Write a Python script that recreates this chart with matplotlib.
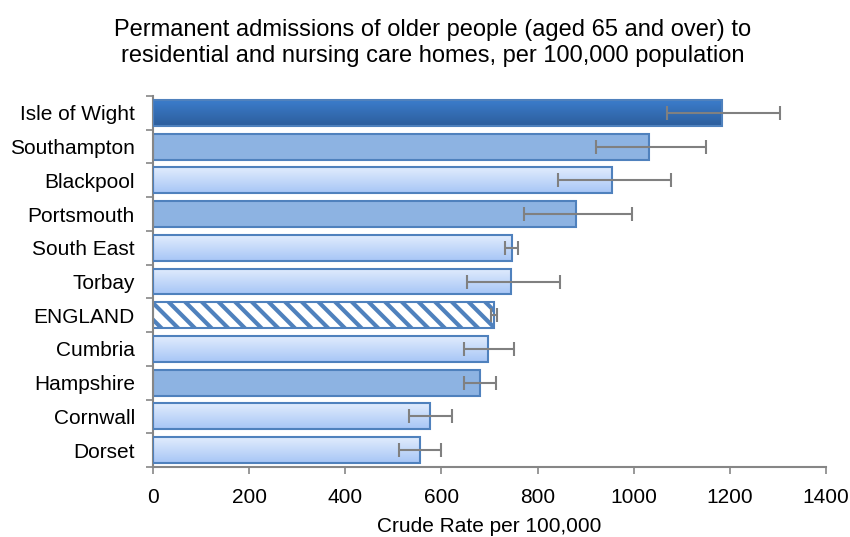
import numpy as np
import matplotlib
matplotlib.use("Agg")
from matplotlib import pyplot as plt
from matplotlib.colors import LinearSegmentedColormap

plt.rcParams['font.family'] = ['Liberation Sans', 'DejaVu Sans']
plt.rcParams['hatch.linewidth'] = 3.0

# data
areas = ['Isle of Wight', 'Southampton', 'Blackpool', 'Portsmouth', 'South East',
         'Torbay', 'ENGLAND', 'Cumbria', 'Hampshire', 'Cornwall', 'Dorset']
rates = [1183, 1032, 955, 880, 747, 745, 710, 697, 681, 576, 555]
ci_low = [1069, 922, 843, 772, 732, 653, 703, 647, 647, 533, 511]
ci_high = [1304, 1150, 1077, 996, 760, 847, 715, 750, 713, 621, 600]
# style of each bar: 'dark', 'mid', 'light', 'hatch'
styles = ['dark', 'mid', 'light', 'mid', 'light', 'light', 'hatch',
          'light', 'mid', 'light', 'light']

edge = '#4f81bd'
dark_cmap = LinearSegmentedColormap.from_list('dk', ['#3b7ccb', '#2d5e9c'])
light_cmap = LinearSegmentedColormap.from_list('lt', ['#e1ecfd', '#a7c6f6'])

fig = plt.figure(figsize=(8.5, 5.37), dpi=100)
ax = fig.add_axes([153 / 850, 1 - 467 / 537, 673 / 850, 371 / 537])

y = np.arange(len(areas))
h = 0.77
grad = np.linspace(0, 1, 64).reshape(-1, 1)

for i, (v, s) in enumerate(zip(rates, styles)):
    if s == 'mid':
        ax.barh(i, v, height=h, color='#8db3e2', edgecolor=edge, linewidth=1.5, zorder=2)
    elif s == 'hatch':
        ax.barh(i, v, height=h, color='white', edgecolor=edge, hatch='\\\\',
                linewidth=1.5, zorder=2)
    else:
        cm = dark_cmap if s == 'dark' else light_cmap
        b = ax.barh(i, v, height=h, color='none', edgecolor=edge, linewidth=1.5, zorder=3)[0]
        im = ax.imshow(grad, cmap=cm, aspect='auto', zorder=2,
                       extent=[0, v, i + h / 2, i - h / 2], interpolation='bilinear')
        im.set_clip_path(b)

xerr = [np.array(rates) - np.array(ci_low), np.array(ci_high) - np.array(rates)]
ax.errorbar(rates, y, xerr=xerr, fmt='none', ecolor='#808080', elinewidth=1.5,
            capsize=5, capthick=1.5, zorder=4)

ax.set_xlim(0, 1400)
ax.set_ylim(len(areas) - 0.5, -0.5)
ax.set_xticks(np.arange(0, 1401, 200))
ax.set_yticks(y)
ax.set_yticklabels(areas)
ax.set_yticks(np.arange(-0.5, len(areas), 1), minor=True)
ax.tick_params(axis='y', which='major', length=0, pad=13, labelsize=15)
ax.tick_params(axis='y', which='minor', length=5, width=1.2, color='#868686')
ax.tick_params(axis='x', length=5, width=1.2, color='#868686', labelsize=15, pad=10)

for sp in ['top', 'right']:
    ax.spines[sp].set_visible(False)
for sp in ['left', 'bottom']:
    ax.spines[sp].set_color('#868686')
    ax.spines[sp].set_linewidth(1.5)

ax.set_xlabel('Crude Rate per 100,000', fontsize=15, labelpad=7)
fig.text(0.509, 1 - 43 / 537,
         'Permanent admissions of older people (aged 65 and over) to\n'
         'residential and nursing care homes, per 100,000 population',
         fontsize=17, ha='center', va='center', linespacing=1.2)

fig.savefig('out.png', dpi=100)
